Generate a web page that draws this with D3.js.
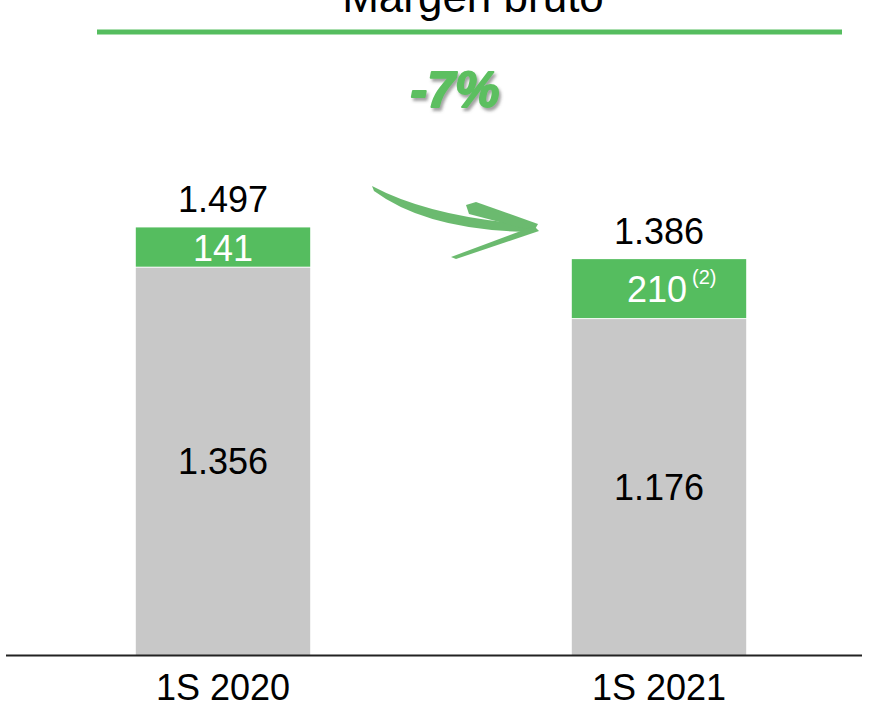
<!DOCTYPE html>
<html lang="es">
<head>
    <meta charset="UTF-8">
    <title>Margen bruto</title>
    <script src="https://d3js.org/d3.v7.min.js"></script>
    <style>
        body { margin: 0; background: #fff; }
        text { font-family: "Liberation Sans", Arial, sans-serif; }
    </style>
</head>
<body>
<div id="figure" style="width: 874px; height: 702px"></div>
<script>
    // data
    const periods = ["1S 2020", "1S 2021"];
    const baseValues = [1356, 1176];
    const extraValues = [141, 210];
    const totalLabels = ["1.497", "1.386"];
    const baseLabels = ["1.356", "1.176"];
    const extraLabels = ["141", "210"];
    const extraNotes = ["", "(2)"];
    const title = "Margen bruto";
    const change = "-7%";

    const green = "#55bd5f";
    const grey = "#c8c8c8";

    let w = 874, h = 702;
    let svg = d3.select("#figure").append("svg")
        .attr("width", w)
        .attr("height", h);

    let defs = svg.append("defs");
    let shadow = defs.append("filter").attr("id", "shadow")
        .attr("x", "-20%").attr("y", "-20%").attr("width", "140%").attr("height", "150%");
    shadow.append("feDropShadow")
        .attr("dx", 2).attr("dy", 3).attr("stdDeviation", 1.5)
        .attr("flood-color", "#555").attr("flood-opacity", 0.55);

    let xScale = d3.scaleBand()
        .domain(periods)
        .range([5, 877])
        .paddingInner(0.6)
        .paddingOuter(0.3);

    let yScale = d3.scaleLinear()
        .domain([0, 1600])
        .range([655, 198]);

    // title + rule
    svg.append("text")
        .attr("x", 473).attr("y", 12)
        .attr("text-anchor", "middle")
        .style("font-size", "44px")
        .style("fill", "#000")
        .text(title);
    svg.append("line")
        .attr("x1", 97).attr("x2", 842)
        .attr("y1", 32).attr("y2", 32)
        .style("stroke", green)
        .style("stroke-width", 5);

    // -7%
    svg.append("text")
        .attr("x", 455).attr("y", 107)
        .attr("text-anchor", "middle")
        .attr("filter", "url(#shadow)")
        .style("font-size", "50px")
        .style("font-weight", "bold")
        .style("font-style", "italic")
        .style("fill", "#5cbf60")
        .style("stroke", "#5cbf60")
        .style("stroke-width", 2)
        .style("stroke-linejoin", "round")
        .text(change);

    // brush arrow
    let arrow = svg.append("g").style("fill", "#5fb563").style("opacity", 0.92);
    arrow.append("path")
        .attr("d", "M372,186 Q432,218 536,225 L533,232 Q428,231 374,191 Z");
    arrow.append("path")
        .attr("d", "M466,205 L476,202 L538,224 L534,231 L469,214 Z");
    arrow.append("path")
        .attr("d", "M534,226 L539,231 L456,259 L451,257 Z");

    let bars = svg.append("g");
    let cx = d => xScale(d) + xScale.bandwidth() / 2;

    bars.selectAll(".base")
        .data(periods)
        .enter().append("rect")
        .attr("class", "base")
        .attr("x", d => xScale(d))
        .attr("width", xScale.bandwidth())
        .attr("y", (d, i) => yScale(baseValues[i]))
        .attr("height", (d, i) => yScale(0) - yScale(baseValues[i]))
        .style("fill", grey);

    bars.selectAll(".extra")
        .data(periods)
        .enter().append("rect")
        .attr("class", "extra")
        .attr("x", d => xScale(d))
        .attr("width", xScale.bandwidth())
        .attr("y", (d, i) => yScale(baseValues[i] + extraValues[i]))
        .attr("height", (d, i) => yScale(baseValues[i]) - yScale(baseValues[i] + extraValues[i]) - 1)
        .style("fill", green);

    // labels in the grey part
    bars.selectAll(".baseLabel")
        .data(periods)
        .enter().append("text")
        .attr("x", d => cx(d))
        .attr("y", (d, i) => (yScale(0) + yScale(baseValues[i])) / 2 + 13)
        .attr("text-anchor", "middle")
        .style("font-size", "36px")
        .text((d, i) => baseLabels[i]);

    // labels in the green part
    let extra = bars.selectAll(".extraLabel")
        .data(periods)
        .enter().append("text")
        .attr("x", (d, i) => extraNotes[i] ? cx(d) - 32 : cx(d))
        .attr("y", (d, i) => (yScale(baseValues[i]) + yScale(baseValues[i] + extraValues[i])) / 2 + 13)
        .attr("text-anchor", (d, i) => extraNotes[i] ? "start" : "middle")
        .style("font-size", "36px")
        .style("fill", "#fff");
    extra.append("tspan").text((d, i) => extraLabels[i]);
    extra.filter((d, i) => extraNotes[i])
        .append("tspan")
        .attr("dx", 5).attr("dy", -18)
        .style("font-size", "20px")
        .text(d => extraNotes[periods.indexOf(d)]);

    // totals above
    bars.selectAll(".total")
        .data(periods)
        .enter().append("text")
        .attr("x", d => cx(d))
        .attr("y", (d, i) => yScale(baseValues[i] + extraValues[i]) - 15)
        .attr("text-anchor", "middle")
        .style("font-size", "36px")
        .text((d, i) => totalLabels[i]);

    // baseline + category axis
    svg.append("line")
        .attr("x1", 6).attr("x2", 862)
        .attr("y1", 655.5).attr("y2", 655.5)
        .style("stroke", "#222")
        .style("stroke-width", 2);

    let axis = svg.append("g")
        .attr("transform", "translate(0,655)")
        .call(d3.axisBottom(xScale).tickSize(0).tickSizeOuter(0));
    axis.select(".domain").remove();
    axis.selectAll("text")
        .attr("y", 45).attr("dy", 0)
        .style("font-family", "'Liberation Sans', Arial, sans-serif")
        .style("font-size", "36px")
        .style("fill", "#000");
</script>
</body>
</html>
